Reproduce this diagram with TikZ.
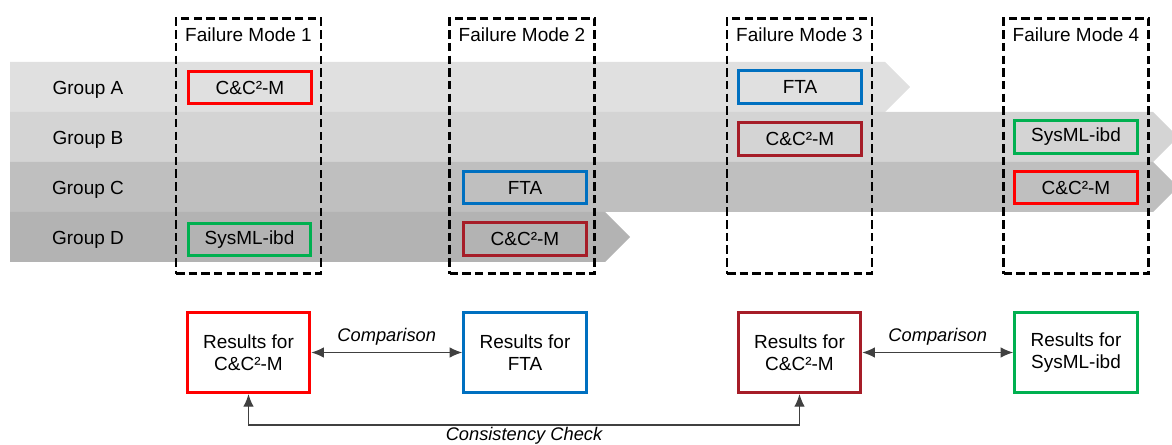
\documentclass[tikz,border=0pt]{standalone}
\usepackage{fontspec}
\setmainfont{Liberation Sans}
\usepackage{xcolor}
\usetikzlibrary{arrows.meta,calc}
\definecolor{fmred}{HTML}{FF0000}
\definecolor{fmblue}{HTML}{0070C0}
\definecolor{fmdarkred}{HTML}{A61D28}
\definecolor{fmgreen}{HTML}{00B050}
\definecolor{bandA}{HTML}{E0E0E0}
\definecolor{bandB}{HTML}{D4D4D4}
\definecolor{bandC}{HTML}{BFBFBF}
\definecolor{bandD}{HTML}{B3B3B3}
\definecolor{linkgray}{HTML}{404040}
\tikzset{
  modebox/.style={draw=black,line width=2pt,dash pattern=on 6pt off 3pt,minimum width=3.62cm,minimum height=6.38cm,inner sep=0pt},
  methbox/.style={draw=#1,line width=2.2pt,minimum width=3.06cm,minimum height=0.82cm,inner sep=0pt},
  resbox/.style={draw=#1,line width=2.2pt,minimum width=3.06cm,minimum height=2.0cm,inner sep=0pt,align=center},
  grplabel/.style={anchor=base},
  cmparrow/.style={draw=linkgray,line width=0.9pt,{Latex[length=9pt,width=7.5pt]}-{Latex[length=9pt,width=7.5pt]}},
  chkarrow/.style={draw=linkgray,line width=0.9pt,{Latex[length=9pt,width=7.5pt]}-{Latex[length=9pt,width=7.5pt]}}
}
\newcommand{\cctwo}{C\&C²-M}

\begin{document}
\begin{tikzpicture}[x=0.025cm,y=-0.025cm,font=\fontsize{13.5}{16}\selectfont]
  \useasboundingbox (0,0) rectangle (1172,445);
  \clip (0,0) rectangle (1172,445);
  % group bands
  \fill[bandA] (10,62) -- (885,62) -- (910,87) -- (885,112) -- (10,112) -- cycle;
  \fill[bandB] (10,112) -- (1153,112) -- (1178,137) -- (1153,162) -- (10,162) -- cycle;
  \fill[bandC] (10,162) -- (1153,162) -- (1178,187) -- (1153,212) -- (10,212) -- cycle;
  \fill[bandD] (10,212) -- (605,212) -- (630,237) -- (605,262) -- (10,262) -- cycle;
  \node[grplabel] (grpa) at (88,95) {Group A};
  \node[grplabel] (grpb) at (88,145) {Group B};
  \node[grplabel] (grpc) at (88,195) {Group C};
  \node[grplabel] (grpd) at (88,245) {Group D};
  % failure modes
  \node[modebox] (fm1) at (248.5,146) {};
  \node[modebox] (fm2) at (522,146) {};
  \node[modebox] (fm3) at (799.5,146) {};
  \node[modebox] (fm4) at (1076,146) {};
  \node (fm1title) at (248.5,35) {Failure Mode 1};
  \node (fm2title) at (522,35) {Failure Mode 2};
  \node (fm3title) at (799.5,35) {Failure Mode 3};
  \node (fm4title) at (1076,35) {Failure Mode 4};
  % methods
  \node[methbox=fmred] (fm1cc) at (250,87.5) {\cctwo};
  \node[methbox=fmgreen] (fm1sys) at (249.5,239.5) {SysML-ibd};
  \node[methbox=fmblue] (fm2fta) at (525,187.5) {FTA};
  \node[methbox=fmdarkred] (fm2cc) at (525,239) {\cctwo};
  \node[methbox=fmblue] (fm3fta) at (800,87) {FTA};
  \node[methbox=fmdarkred] (fm3cc) at (800,139) {\cctwo};
  \node[methbox=fmgreen] (fm4sys) at (1076,137) {SysML-ibd};
  \node[methbox=fmred] (fm4cc) at (1076,187.5) {\cctwo};
  % results
  \node[resbox=fmred] (res1) at (248.5,352.5) {Results for\\\cctwo};
  \node[resbox=fmblue] (res2) at (525,352.5) {Results for\\FTA};
  \node[resbox=fmdarkred] (res3) at (799.5,352.5) {Results for\\\cctwo};
  \node[resbox=fmgreen] (res4) at (1076,352.5) {Results for\\SysML-ibd};
  \draw[cmparrow] (res1) -- (res2) node[midway,above=1pt,font=\fontsize{13}{15}\selectfont\itshape] {Comparison};
  \draw[cmparrow] (res3) -- (res4) node[midway,above=1pt,font=\fontsize{13}{15}\selectfont\itshape] {Comparison};
  \coordinate (chkl) at ($(res1.south)+(0,31)$);
  \draw[chkarrow] (res1.south) -- (chkl) -| (res3.south);
  \node[anchor=north,inner sep=1pt,font=\fontsize{13}{15}\selectfont\itshape] (chklabel) at ($(chkl)!0.5!(chkl-|res3.south)+(0,1)$) {Consistency Check};
\end{tikzpicture}
\end{document}
